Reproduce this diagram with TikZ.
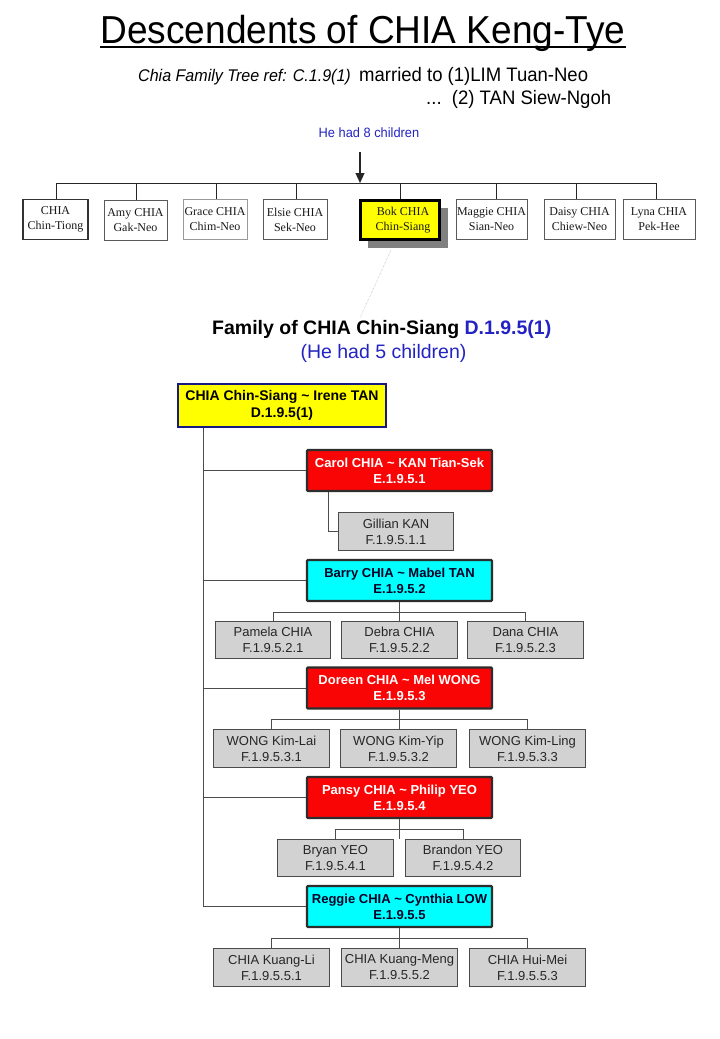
\documentclass[tikz,border=0pt]{standalone}
\usepackage{fontspec}
\setmainfont{Liberation Sans}
\newfontfamily\timesf{Liberation Serif}
\usetikzlibrary{shadows,arrows.meta}
\definecolor{hblue}{RGB}{35,35,195}
\definecolor{ered}{RGB}{250,5,5}
\definecolor{ecyan}{RGB}{0,255,255}
\definecolor{byellow}{RGB}{255,255,0}
\definecolor{fgray}{RGB}{210,210,210}
\definecolor{bgray}{RGB}{75,75,75}
\definecolor{eborder}{RGB}{45,45,45}
\definecolor{rootblue}{RGB}{25,25,130}
\definecolor{shgray}{RGB}{128,128,128}
\tikzset{
 topbox/.style={draw=black!65, line width=0.8pt, fill=white, minimum width=64pt, minimum height=40pt, inner sep=0pt, align=center, font=\timesf\fontsize{12}{15}\selectfont, text=black!90},
 ebox/.style={draw=eborder, line width=2.4pt, rounded corners=1pt, minimum width=185pt, minimum height=41pt, inner sep=0pt, align=center, font=\bfseries\fontsize{13}{16}\selectfont},
 redbox/.style={ebox, fill=ered, text=white},
 cyanbox/.style={ebox, fill=ecyan, text=black!85!blue},
 gbox/.style={draw=bgray, line width=1.4pt, fill=fgray, minimum width=115.5pt, minimum height=37.5pt, inner sep=0pt, align=center, font=\fontsize{13}{16}\selectfont, text=black!85},
 conn/.style={draw=black!70, line width=0.8pt},
 tconn/.style={draw=black!85, line width=0.9pt},
}
\begin{document}
\begin{tikzpicture}[x=1pt,y=-1pt]
\useasboundingbox (0,0) rectangle (720,1039);
\fill[white] (0,0) rectangle (720,1039);

% title
\node[anchor=base, inner sep=0pt] (title) at (363,43) {\scalebox{0.95}[1]{\fontsize{39}{44}\selectfont Descendents of CHIA Keng-Tye}};
\draw[line width=2.2pt] ([yshift=-4pt]title.base west) -- ([yshift=-4pt]title.base east);
\node[anchor=base west, inner sep=0pt] (ref) at (138,81) {\scalebox{0.95}[1]{\fontsize{16.9}{20}\selectfont\itshape Chia Family Tree ref: C.1.9(1)}};
\node[anchor=base west, inner sep=0pt] (m1) at (359,81) {\scalebox{0.95}[1]{\fontsize{19.5}{23}\selectfont married to (1)LIM Tuan-Neo}};
\node[anchor=base west, inner sep=0pt] (m2) at (426,104) {\scalebox{0.95}[1]{\fontsize{19.5}{23}\selectfont ...\ \ (2) TAN Siew-Ngoh}};
\node[anchor=base, inner sep=0pt, text=hblue] (had8) at (369,137) {\scalebox{0.95}[1]{\fontsize{13.5}{16}\selectfont He had 8 children}};

% first generation
\coordinate (arrtop) at (360,152);
\coordinate (d1) at (56,183);
\coordinate (d2) at (136,183);
\coordinate (d3) at (216,183);
\coordinate (d4) at (296,183);
\coordinate (d5) at (400,183);
\coordinate (d6) at (496,183);
\coordinate (d7) at (576,183);
\coordinate (d8) at (656,183);
\coordinate (barmid) at (360,183);

\node[topbox, draw=black!80, line width=1.1pt, minimum width=65pt] (c1) at (55.5,219.5) {CHIA\\Chin-Tiong};
\node[topbox, minimum width=63pt] (c2) at (135.5,220) {Amy CHIA\\Gak-Neo};
\node[topbox, draw=black!40, minimum width=64pt] (c3) at (215,219.5) {Grace CHIA\\Chim-Neo};
\node[topbox] (c4) at (295,219.5) {Elsie CHIA\\Sek-Neo};
\node[topbox, fill=byellow, draw=black, line width=3pt, minimum width=79pt, minimum height=39pt,
      drop shadow={shadow xshift=8pt, shadow yshift=-8pt, shadow scale=1.02, fill=shgray, opacity=1}] (bok) at (400,220) {\hspace*{6pt}Bok CHIA\\\hspace*{6pt}Chin-Siang};
\node[topbox, minimum width=71pt] (c6) at (491.5,219.5) {Maggie CHIA\\Sian-Neo};
\node[topbox, minimum width=71pt] (c7) at (579.5,219.5) {Daisy CHIA\\Chiew-Neo};
\node[topbox, minimum width=72pt] (c8) at (659,219.5) {Lyna CHIA\\Pek-Hee};

\draw[tconn] (d1) -- (d8);
\draw[tconn, line width=1.2pt, -{Triangle[length=10pt,width=9pt]}] (arrtop) -- (barmid);
\draw[tconn] (d1) -- (d1 |- c1.north);
\draw[tconn] (d2) -- (d2 |- c2.north);
\draw[tconn] (d3) -- (d3 |- c3.north);
\draw[tconn] (d4) -- (d4 |- c4.north);
\draw[tconn] (d5) -- (d5 |- bok.north);
\draw[tconn] (d6) -- (d6 |- c6.north);
\draw[tconn] (d7) -- (d7 |- c7.north);
\draw[tconn] (d8) -- (d8 |- c8.north);

% link to family
\coordinate (famtop) at (360,318);
\draw[draw=gray!60, line width=0.5pt, densely dotted] ([xshift=-9pt,yshift=-9pt]bok.south) -- (famtop);

\node[anchor=base west, inner sep=0pt, font=\bfseries\fontsize{19.5}{23}\selectfont] (fam) at (212,334) {Family of CHIA Chin-Siang \textcolor{hblue}{D.1.9.5(1)}};
\node[anchor=base, inner sep=0pt, text=hblue, font=\fontsize{19.5}{23}\selectfont] (kids5) at (383.5,358) {(He had 5 children)};

% root couple
\node[draw=rootblue, line width=1.5pt, fill=byellow, minimum width=208pt, minimum height=43pt, inner sep=0pt, align=center, font=\bfseries\fontsize{14}{17.5}\selectfont] (root) at (282,405.5) {CHIA Chin-Siang \textasciitilde{} Irene TAN\\D.1.9.5(1)};

% children
\node[redbox] (carol) at (399.5,470.5) {Carol CHIA \textasciitilde{} KAN Tian-Sek\\E.1.9.5.1};
\node[cyanbox] (barry) at (399.5,580.5) {Barry CHIA \textasciitilde{} Mabel TAN\\E.1.9.5.2};
\node[redbox] (doreen) at (399.5,688) {Doreen CHIA \textasciitilde{} Mel WONG\\E.1.9.5.3};
\node[redbox] (pansy) at (399.5,797.5) {Pansy CHIA \textasciitilde{} Philip YEO\\E.1.9.5.4};
\node[cyanbox] (reggie) at (399.5,906.5) {Reggie CHIA \textasciitilde{} Cynthia LOW\\E.1.9.5.5};

\coordinate (tx) at (203,0);
\draw[conn] (root.south -| tx) |- (reggie.west);
\draw[conn] (carol.west -| tx) -- (carol.west);
\draw[conn] (barry.west -| tx) -- (barry.west);
\draw[conn] (doreen.west -| tx) -- (doreen.west);
\draw[conn] (pansy.west -| tx) -- (pansy.west);

% grandchildren
\node[gbox] (gill) at (396,531.5) {Gillian KAN\\F.1.9.5.1.1};
\coordinate (gx) at (328,0);
\draw[conn] (carol.south -| gx) |- (gill.west);

\node[gbox] (pam) at (273,640) {Pamela CHIA\\F.1.9.5.2.1};
\node[gbox] (deb) at (399.5,640) {Debra CHIA\\F.1.9.5.2.2};
\node[gbox] (dana) at (525.5,640) {Dana CHIA\\F.1.9.5.2.3};
\draw[conn] (pam.north) -- ++(0,-8) -| (dana.north);
\draw[conn] (barry.south) -- (barry.south |- deb.north);

\node[gbox] (wl) at (271.5,748.5) {WONG Kim-Lai\\F.1.9.5.3.1};
\node[gbox] (wy) at (398.5,748.5) {WONG Kim-Yip\\F.1.9.5.3.2};
\node[gbox] (wg) at (527.5,748.5) {WONG Kim-Ling\\F.1.9.5.3.3};
\draw[conn] (wl.north) -- ++(0,-10) -| (wg.north);
\draw[conn] (doreen.south) -- (doreen.south |- wy.north);

\node[gbox] (bry) at (335.5,858) {Bryan YEO\\F.1.9.5.4.1};
\node[gbox] (brn) at (463,858) {Brandon YEO\\F.1.9.5.4.2};
\draw[conn] (bry.north) -- ++(0,-9.5) -| (brn.north);
\draw[conn] (pansy.south) -- (pansy.south |- bry.north);

\node[gbox] (kl) at (271.5,967.5) {CHIA Kuang-Li\\F.1.9.5.5.1};
\node[gbox] (km) at (399.5,967.5) {CHIA Kuang-Meng\\F.1.9.5.5.2};
\node[gbox] (hm) at (527.5,967.5) {CHIA Hui-Mei\\F.1.9.5.5.3};
\draw[conn] (kl.north) -- ++(0,-10) -| (hm.north);
\draw[conn] (reggie.south) -- (km.north);
\end{tikzpicture}
\end{document}
